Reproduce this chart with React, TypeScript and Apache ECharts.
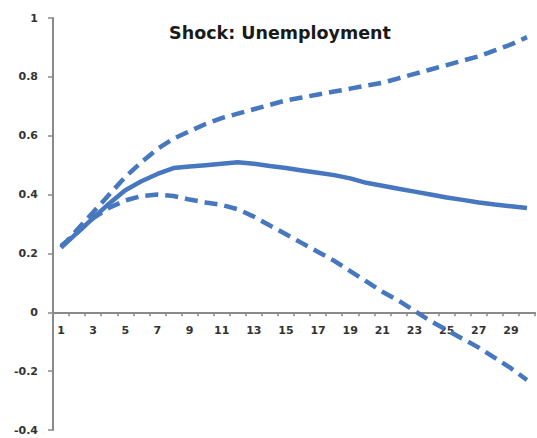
import React, { useEffect, useRef } from "react";
import * as echarts from "echarts";

const categories = Array.from({ length: 30 }, (_, i) => String(i + 1));
const response = [0.22, 0.27, 0.32, 0.37, 0.415, 0.445, 0.47, 0.49, 0.495, 0.5, 0.505, 0.51, 0.505, 0.497, 0.49, 0.482, 0.474, 0.466, 0.455, 0.44, 0.43, 0.42, 0.41, 0.4, 0.39, 0.382, 0.373, 0.366, 0.36, 0.354];
const upperBand = [0.22, 0.28, 0.34, 0.4, 0.46, 0.51, 0.555, 0.59, 0.615, 0.64, 0.66, 0.675, 0.69, 0.705, 0.72, 0.73, 0.74, 0.75, 0.76, 0.77, 0.78, 0.795, 0.81, 0.825, 0.84, 0.855, 0.87, 0.89, 0.91, 0.935];
const lowerBand = [0.225, 0.27, 0.32, 0.355, 0.38, 0.395, 0.4, 0.395, 0.383, 0.373, 0.365, 0.35, 0.325, 0.295, 0.265, 0.235, 0.205, 0.175, 0.14, 0.105, 0.07, 0.04, 0.005, -0.03, -0.06, -0.09, -0.12, -0.155, -0.19, -0.23];
const title = "Shock: Unemployment";

const BLUE = "#4677BF";
const FONT = "'DejaVu Sans', sans-serif";

const GRID_TOP = 18;
const GRID_BOTTOM = 8;
const Y_MIN = -0.4;
const Y_MAX = 1;
const CHART_H = 438;

export default function App() {
  const ref = useRef<HTMLDivElement>(null);
  useEffect(() => {
    if (!ref.current) return;
    const chart = echarts.init(ref.current, null, { renderer: "svg" });
    const plotH = CHART_H - GRID_TOP - GRID_BOTTOM;
    const zeroFromBottom = (plotH * (0 - Y_MIN)) / (Y_MAX - Y_MIN);
    const dashed = { type: [13, 7] as any, width: 4.5, color: BLUE };
    chart.setOption({
      animation: false,
      backgroundColor: "#fff",
      title: {
        text: title,
        left: 275,
        textAlign: "center",
        top: 19,
        textStyle: { fontFamily: FONT, fontSize: 17.5, fontWeight: "bold", color: "#1a1a1a" },
      },
      grid: { left: 53, right: 2, top: GRID_TOP, bottom: GRID_BOTTOM, outerBoundsMode: "none", containLabel: false },
      xAxis: {
        type: "category",
        data: categories,
        boundaryGap: true,
        offset: -zeroFromBottom,
        axisLine: { onZero: false, lineStyle: { color: "#8a8a8a", width: 2 } },
        axisTick: { show: true, length: 4, interval: 0, lineStyle: { color: "#8a8a8a", width: 1.5 } },
        axisLabel: { interval: 1, fontFamily: FONT, fontSize: 11, fontWeight: "bold", color: "#333", margin: 13 },
        splitLine: { show: false },
      },
      yAxis: {
        type: "value",
        min: Y_MIN,
        max: Y_MAX,
        interval: 0.2,
        axisLine: { show: true, lineStyle: { color: "#8a8a8a", width: 2 } },
        axisTick: { show: true, length: 5, lineStyle: { color: "#8a8a8a", width: 1.5 } },
        axisLabel: {
          fontFamily: FONT,
          fontSize: 11,
          fontWeight: "bold",
          color: "#333",
          margin: 15,
          formatter: (v: number) => String(Math.round(v * 10) / 10),
        },
        splitLine: { show: false },
      },
      series: [
        { type: "line", data: upperBand, showSymbol: false, lineStyle: dashed, z: 2 },
        { type: "line", data: lowerBand, showSymbol: false, lineStyle: dashed, z: 2 },
        { type: "line", data: response, showSymbol: false, lineStyle: { width: 4.5, color: BLUE }, z: 3 },
      ],
    });
    return () => chart.dispose();
  }, []);
  return <div ref={ref} style={{ width: 537, height: 438, position: "absolute", left: 0, top: 0 }} />;
}
